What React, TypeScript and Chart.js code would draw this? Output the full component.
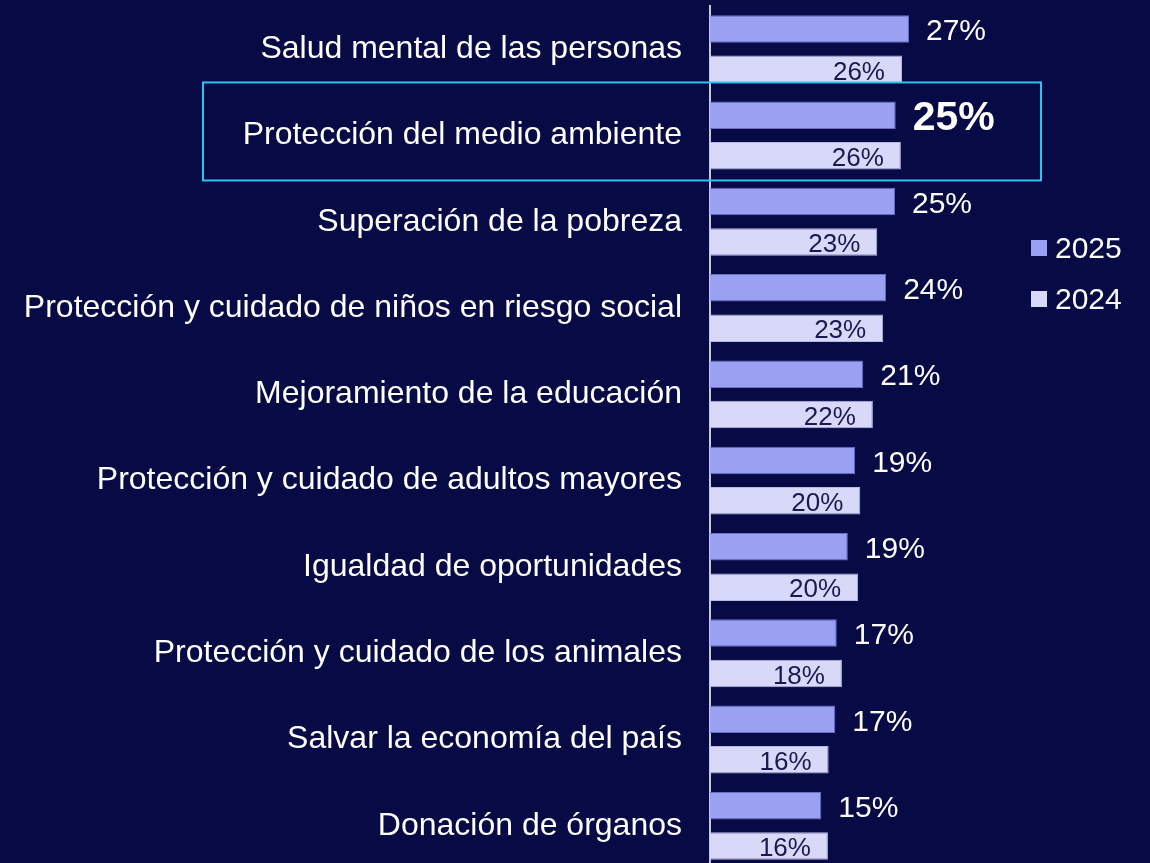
import React, { useEffect, useRef } from "react";
import { Chart, registerables } from "chart.js";

Chart.register(...registerables);

const categories = [
  "Salud mental de las personas",
  "Protección del medio ambiente",
  "Superación de la pobreza",
  "Protección y cuidado de niños en riesgo social",
  "Mejoramiento de la educación",
  "Protección y cuidado de adultos mayores",
  "Igualdad de oportunidades",
  "Protección y cuidado de los animales",
  "Salvar la economía del país",
  "Donación de órganos",
];
const seriesNames = ["2025", "2024"];
const values2025 = [27.0, 25.2, 25.1, 23.9, 20.8, 19.7, 18.7, 17.2, 17.0, 15.1];
const values2024 = [26.05, 25.9, 22.7, 23.5, 22.1, 20.4, 20.1, 17.9, 16.1, 16.0];
const labels2025 = ["27%", "25%", "25%", "24%", "21%", "19%", "19%", "17%", "17%", "15%"];
const labels2024 = ["26%", "26%", "23%", "23%", "22%", "20%", "20%", "18%", "16%", "16%"];
const highlightIndex = 1;

const BG = "#070a45";
const C2025 = "#9ca0f2";
const C2024 = "#d8d9f8";
const FONT = "'Liberation Sans', Arial, sans-serif";

const decorPlugin = {
  id: "decor",
  beforeDraw(chart: any) {
    const { ctx } = chart;
    ctx.save();
    ctx.fillStyle = BG;
    ctx.fillRect(0, 0, chart.width, chart.height);
    ctx.restore();
  },
  afterDatasetsDraw(chart: any) {
    const { ctx } = chart;
    ctx.save();
    ctx.textBaseline = "middle";
    // 2025 labels
    const m0 = chart.getDatasetMeta(0);
    m0.data.forEach((el: any, i: number) => {
      const bold = i === highlightIndex;
      ctx.font = bold ? `bold 41px ${FONT}` : `30px ${FONT}`;
      ctx.fillStyle = "#ffffff";
      ctx.textAlign = "left";
      ctx.fillText(labels2025[i], el.x + 17, el.y + (bold ? 3 : 3));
    });
    // 2024 labels
    const m1 = chart.getDatasetMeta(1);
    m1.data.forEach((el: any, i: number) => {
      ctx.font = `26px ${FONT}`;
      ctx.fillStyle = "#1a1a52";
      ctx.textAlign = "right";
      ctx.fillText(labels2024[i], el.x - 17, el.y + 3);
    });
    // highlight box
    const ys = chart.scales.y;
    const cy = ys.getPixelForValue(highlightIndex);
    ctx.strokeStyle = "#2bc4ee";
    ctx.lineWidth = 2;
    ctx.strokeRect(203, cy - 53, 838, 98);
    // legend
    const colors = [C2025, C2024];
    const ly = [248, 299];
    seriesNames.forEach((name, i) => {
      ctx.fillStyle = colors[i];
      ctx.fillRect(1031, ly[i] - 8, 16, 16);
      ctx.fillStyle = "#ffffff";
      ctx.font = `30px ${FONT}`;
      ctx.textAlign = "left";
      ctx.fillText(name, 1055, ly[i] + 2);
    });
    ctx.restore();
  },
};

export default function App() {
  const ref = useRef<HTMLCanvasElement>(null);
  useEffect(() => {
    if (!ref.current) return;
    const chart = new Chart(ref.current, {
      type: "bar",
      data: {
        labels: categories,
        datasets: [
          {
            label: seriesNames[0],
            data: values2025,
            backgroundColor: C2025,
            borderColor: "#6a6ec8",
            borderWidth: 1,
            categoryPercentage: 0.937,
            barPercentage: 0.68,
          },
          {
            label: seriesNames[1],
            data: values2024,
            backgroundColor: C2024,
            borderColor: "#b8b9e8",
            borderWidth: 1,
            categoryPercentage: 0.937,
            barPercentage: 0.68,
          },
        ],
      },
      options: {
        indexAxis: "y",
        animation: false,
        responsive: true,
        maintainAspectRatio: false,
        layout: { padding: { top: 6, right: 71.5, bottom: 0, left: 0 } },
        plugins: {
          legend: { display: false },
          tooltip: { enabled: false },
        },
        scales: {
          x: { display: false, min: 0, max: 50 },
          y: {
            afterFit: (s: any) => {
              s.width = 710;
              s.paddingTop = 0;
              s.paddingBottom = 0;
            },
            grid: { display: false, drawTicks: false },
            border: { display: true, color: "#c8c8d8", width: 2 },
            ticks: {
              color: "#ffffff",
              font: { family: FONT, size: 32 },
              padding: 28,
            },
          },
        },
      },
      plugins: [decorPlugin],
    } as any);
    return () => chart.destroy();
  }, []);
  return (
    <div
      style={{
        position: "fixed",
        left: 0,
        top: 0,
        width: 1150,
        height: 869,
        background: BG,
      }}
    >
      <canvas ref={ref} />
    </div>
  );
}
